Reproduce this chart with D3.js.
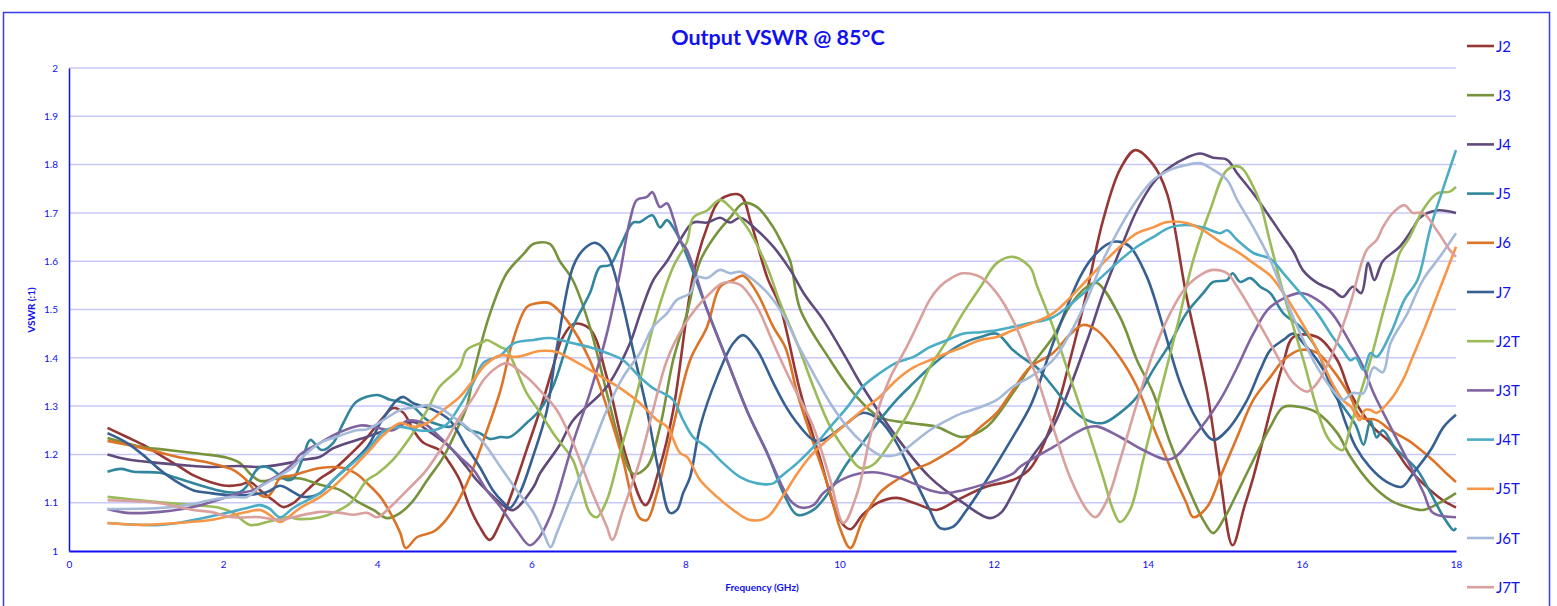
<!DOCTYPE html>
<html>
<head>
<meta charset="utf-8">
<script src="https://cdn.jsdelivr.net/npm/d3@7"></script>
<style>
    body { margin: 0; background: #ffffff; }
    text { font-family: Lato, "Open Sans", sans-serif; fill: #1010f0; }
</style>
</head>
<body>
<div id="chart"></div>
<script>
// series, [frequency GHz, VSWR]
const J2 = [[0.5,1.255],[0.75,1.236],[0.96,1.22],[1.18,1.199],[1.4,1.178],[1.61,1.157],[1.83,1.143],[2.05,1.135],[2.22,1.137],[2.35,1.143],[2.48,1.126],[2.65,1.105],[2.78,1.091],[2.91,1.099],[3.09,1.126],[3.26,1.15],[3.43,1.168],[3.65,1.2],[3.87,1.236],[4.08,1.277],[4.21,1.296],[4.34,1.286],[4.47,1.25],[4.6,1.224],[4.81,1.209],[4.94,1.182],[5.07,1.147],[5.2,1.091],[5.33,1.05],[5.46,1.023],[5.6,1.06],[5.77,1.13],[5.94,1.21],[6.11,1.29],[6.28,1.38],[6.4,1.44],[6.55,1.47],[6.76,1.46],[6.98,1.36],[7.24,1.19],[7.48,1.095],[7.66,1.17],[7.84,1.29],[8.1,1.57],[8.28,1.67],[8.45,1.727],[8.71,1.737],[8.85,1.68],[9.06,1.567],[9.23,1.505],[9.49,1.33],[9.75,1.19],[10,1.065],[10.14,1.045],[10.3,1.075],[10.5,1.1],[10.74,1.11],[10.96,1.1],[11.26,1.085],[11.52,1.105],[11.9,1.133],[12.25,1.147],[12.47,1.17],[12.77,1.27],[12.99,1.395],[13.2,1.53],[13.42,1.685],[13.64,1.79],[13.84,1.83],[14.07,1.8],[14.25,1.74],[14.5,1.53],[14.77,1.33],[14.94,1.15],[15.1,1.012],[15.25,1.09],[15.37,1.153],[15.59,1.29],[15.76,1.39],[15.89,1.443],[16.2,1.443],[16.46,1.395],[16.63,1.327],[16.92,1.257],[17.15,1.224],[17.37,1.174],[17.57,1.14],[17.83,1.105],[18,1.09]]
const J3 = [[0.5,1.234],[0.96,1.215],[1.18,1.211],[1.61,1.203],[1.83,1.199],[2.05,1.193],[2.22,1.182],[2.35,1.16],[2.48,1.145],[2.7,1.15],[3,1.15],[3.26,1.137],[3.52,1.126],[3.78,1.099],[3.95,1.085],[4.13,1.068],[4.3,1.079],[4.47,1.105],[4.65,1.147],[4.86,1.195],[5.03,1.25],[5.16,1.298],[5.27,1.38],[5.46,1.49],[5.68,1.575],[5.9,1.615],[6.03,1.636],[6.24,1.636],[6.37,1.6],[6.54,1.56],[6.76,1.464],[6.98,1.327],[7.15,1.224],[7.32,1.16],[7.5,1.174],[7.67,1.257],[7.84,1.395],[8.02,1.492],[8.19,1.6],[8.41,1.658],[8.58,1.69],[8.75,1.72],[8.93,1.712],[9.14,1.67],[9.23,1.644],[9.36,1.6],[9.49,1.5],[9.88,1.395],[10.18,1.327],[10.52,1.277],[10.96,1.264],[11.26,1.257],[11.6,1.236],[11.91,1.257],[12.25,1.327],[12.47,1.38],[12.77,1.443],[13,1.51],[13.21,1.547],[13.34,1.555],[13.64,1.484],[13.86,1.395],[14.07,1.327],[14.29,1.224],[14.5,1.14],[14.72,1.064],[14.85,1.037],[15,1.07],[15.16,1.12],[15.37,1.188],[15.59,1.257],[15.76,1.298],[15.98,1.298],[16.2,1.286],[16.46,1.244],[16.63,1.195],[16.89,1.14],[17.15,1.105],[17.37,1.091],[17.57,1.085],[17.79,1.1],[18,1.12]]
const J4 = [[0.5,1.2],[0.75,1.19],[1.18,1.182],[1.61,1.176],[1.83,1.174],[2.2,1.176],[2.48,1.174],[2.91,1.184],[3,1.188],[3.26,1.195],[3.43,1.213],[3.86,1.236],[4.2,1.254],[4.47,1.267],[4.65,1.25],[4.94,1.215],[5.16,1.174],[5.29,1.147],[5.51,1.112],[5.68,1.089],[5.77,1.085],[6.03,1.133],[6.11,1.16],[6.37,1.22],[6.54,1.27],[6.98,1.34],[7.28,1.43],[7.41,1.49],[7.58,1.56],[7.76,1.6],[7.93,1.644],[8.1,1.68],[8.28,1.68],[8.45,1.69],[8.58,1.68],[8.71,1.69],[8.93,1.664],[9.14,1.63],[9.36,1.582],[9.55,1.53],[9.79,1.478],[10.1,1.395],[10.3,1.34],[10.74,1.236],[11.17,1.153],[11.6,1.1],[11.95,1.068],[12.1,1.08],[12.25,1.12],[12.47,1.188],[12.77,1.257],[13.2,1.43],[13.42,1.534],[13.64,1.623],[13.86,1.706],[14.07,1.762],[14.29,1.795],[14.5,1.814],[14.68,1.823],[14.85,1.814],[15.03,1.81],[15.16,1.782],[15.37,1.74],[15.59,1.69],[15.76,1.65],[15.89,1.62],[16.02,1.58],[16.2,1.555],[16.4,1.54],[16.53,1.526],[16.66,1.547],[16.77,1.534],[16.86,1.596],[16.94,1.561],[17.05,1.6],[17.27,1.63],[17.44,1.668],[17.53,1.69],[17.75,1.705],[18,1.7]]
const J5 = [[0.5,1.164],[0.67,1.17],[0.84,1.164],[1.18,1.162],[1.4,1.151],[1.83,1.13],[2.05,1.122],[2.22,1.122],[2.3,1.133],[2.42,1.165],[2.48,1.174],[2.6,1.172],[2.83,1.147],[2.91,1.15],[3.04,1.195],[3.13,1.23],[3.28,1.209],[3.43,1.224],[3.56,1.265],[3.73,1.309],[4,1.323],[4.17,1.313],[4.3,1.309],[4.47,1.298],[4.65,1.271],[4.81,1.261],[4.94,1.257],[5.07,1.265],[5.2,1.25],[5.33,1.244],[5.46,1.232],[5.6,1.236],[5.72,1.236],[5.94,1.265],[6.11,1.292],[6.28,1.34],[6.54,1.464],[6.76,1.534],[6.89,1.588],[7.02,1.592],[7.15,1.63],[7.32,1.68],[7.41,1.681],[7.57,1.695],[7.67,1.67],[7.76,1.685],[7.84,1.67],[7.97,1.63],[8.28,1.5],[8.54,1.395],[8.8,1.29],[9.06,1.203],[9.3,1.11],[9.45,1.075],[9.66,1.085],[9.88,1.126],[10.1,1.182],[10.3,1.224],[10.52,1.271],[10.74,1.313],[10.96,1.348],[11.17,1.38],[11.4,1.41],[11.6,1.43],[11.83,1.443],[12.04,1.45],[12.25,1.416],[12.47,1.39],[12.56,1.38],[12.77,1.34],[12.99,1.298],[13.21,1.271],[13.42,1.265],[13.64,1.286],[13.86,1.319],[14.07,1.375],[14.29,1.43],[14.5,1.492],[14.72,1.534],[14.85,1.557],[15.03,1.561],[15.1,1.575],[15.2,1.557],[15.33,1.565],[15.46,1.547],[15.59,1.534],[15.76,1.492],[15.98,1.464],[16.2,1.416],[16.4,1.33],[16.53,1.3],[16.7,1.26],[16.8,1.22],[16.89,1.27],[16.97,1.235],[17.05,1.25],[17.2,1.215],[17.33,1.195],[17.5,1.167],[17.67,1.12],[17.84,1.07],[17.97,1.043],[18,1.048]]
const J6 = [[0.5,1.228],[0.96,1.213],[1.4,1.195],[1.83,1.182],[2.13,1.168],[2.3,1.147],[2.44,1.12],[2.57,1.112],[2.65,1.126],[2.74,1.151],[2.91,1.157],[3.26,1.172],[3.56,1.172],[3.73,1.16],[3.87,1.14],[4.04,1.112],[4.17,1.079],[4.3,1.037],[4.37,1.006],[4.52,1.029],[4.73,1.04],[4.86,1.058],[5.04,1.1],[5.2,1.153],[5.38,1.23],[5.6,1.333],[5.75,1.43],[5.94,1.505],[6.07,1.513],[6.24,1.513],[6.46,1.478],[6.76,1.395],[6.98,1.298],[7.19,1.188],[7.32,1.1],[7.41,1.068],[7.5,1.064],[7.63,1.12],[7.84,1.257],[8.06,1.395],[8.28,1.464],[8.45,1.547],[8.62,1.561],[8.75,1.57],[8.93,1.534],[9.14,1.464],[9.3,1.42],[9.45,1.327],[9.66,1.224],[9.88,1.12],[10,1.05],[10.14,1.006],[10.3,1.064],[10.52,1.12],[10.74,1.147],[10.96,1.168],[11.17,1.182],[11.4,1.203],[11.6,1.224],[11.83,1.257],[12.04,1.286],[12.25,1.333],[12.47,1.38],[12.77,1.41],[13,1.45],[13.16,1.468],[13.34,1.457],[13.64,1.4],[13.86,1.34],[14.07,1.257],[14.29,1.174],[14.5,1.1],[14.59,1.07],[14.77,1.091],[14.94,1.153],[15.16,1.236],[15.37,1.313],[15.59,1.36],[15.76,1.395],[15.98,1.416],[16.2,1.41],[16.4,1.375],[16.63,1.319],[16.76,1.277],[16.97,1.271],[17.15,1.25],[17.37,1.23],[17.5,1.215],[17.7,1.188],[17.88,1.16],[18,1.143]]
const J7 = [[0.5,1.244],[0.75,1.224],[0.96,1.199],[1.18,1.168],[1.4,1.143],[1.61,1.126],[1.83,1.12],[2.05,1.116],[2.31,1.116],[2.57,1.122],[2.74,1.135],[2.91,1.122],[3.04,1.112],[3.26,1.12],[3.43,1.147],[3.87,1.215],[4.04,1.265],[4.26,1.313],[4.34,1.319],[4.47,1.306],[4.73,1.292],[4.94,1.271],[5.16,1.215],[5.33,1.174],[5.5,1.126],[5.64,1.1],[5.72,1.089],[5.85,1.12],[6.02,1.195],[6.2,1.29],[6.33,1.42],[6.54,1.588],[6.67,1.623],[6.83,1.638],[6.98,1.617],[7.15,1.534],[7.32,1.416],[7.5,1.292],[7.67,1.153],[7.8,1.079],[7.89,1.085],[7.97,1.12],[8.06,1.153],[8.19,1.257],[8.41,1.36],[8.62,1.43],[8.75,1.447],[8.93,1.416],[9.14,1.348],[9.3,1.3],[9.45,1.265],[9.66,1.23],[9.79,1.23],[10.1,1.265],[10.3,1.286],[10.52,1.271],[10.74,1.224],[10.96,1.153],[11.17,1.085],[11.3,1.048],[11.47,1.05],[11.65,1.085],[11.91,1.147],[12.17,1.215],[12.47,1.298],[12.56,1.333],[12.77,1.43],[13.12,1.567],[13.29,1.609],[13.51,1.638],[13.64,1.64],[13.77,1.63],[13.99,1.567],[14.2,1.464],[14.42,1.348],[14.64,1.271],[14.85,1.23],[15.03,1.25],[15.29,1.313],[15.46,1.375],[15.59,1.416],[15.76,1.437],[15.89,1.45],[16.02,1.43],[16.2,1.395],[16.4,1.34],[16.58,1.26],[16.7,1.215],[16.88,1.174],[17.1,1.143],[17.3,1.133],[17.44,1.16],[17.67,1.209],[17.84,1.257],[18,1.282]]
const J2T = [[0.5,1.112],[1.18,1.101],[1.61,1.095],[1.96,1.089],[2.13,1.079],[2.35,1.054],[2.57,1.06],[2.83,1.07],[3,1.066],[3.26,1.07],[3.43,1.079],[3.65,1.099],[3.87,1.147],[4,1.16],[4.2,1.188],[4.43,1.236],[4.65,1.292],[4.81,1.34],[5.07,1.38],[5.16,1.416],[5.38,1.433],[5.42,1.437],[5.6,1.422],[5.68,1.416],[5.94,1.327],[6.1,1.29],[6.3,1.24],[6.54,1.188],[6.67,1.12],[6.76,1.079],[6.85,1.07],[6.98,1.105],[7.15,1.203],[7.37,1.327],[7.58,1.464],[7.84,1.588],[8.02,1.64],[8.1,1.69],[8.28,1.705],[8.45,1.727],[8.58,1.712],[8.8,1.67],[9.06,1.588],[9.23,1.513],[9.45,1.43],[9.66,1.34],[9.88,1.257],[10.1,1.203],[10.27,1.172],[10.43,1.178],[10.66,1.224],[10.96,1.306],[11.17,1.38],[11.4,1.437],[11.6,1.492],[11.83,1.547],[12.04,1.596],[12.25,1.609],[12.47,1.588],[12.56,1.55],[12.77,1.464],[12.99,1.36],[13.21,1.257],[13.42,1.153],[13.55,1.085],[13.64,1.06],[13.77,1.085],[13.94,1.188],[14.16,1.327],[14.38,1.464],[14.59,1.602],[14.81,1.706],[15.03,1.789],[15.2,1.795],[15.37,1.754],[15.46,1.72],[15.59,1.638],[15.76,1.534],[15.89,1.464],[16.02,1.395],[16.2,1.292],[16.33,1.236],[16.46,1.213],[16.53,1.209],[16.63,1.257],[16.76,1.327],[16.89,1.395],[17.05,1.492],[17.18,1.567],[17.27,1.617],[17.4,1.65],[17.57,1.706],[17.75,1.74],[17.92,1.744],[18,1.754]]
const J3T = [[0.5,1.087],[0.75,1.079],[1.18,1.081],[1.61,1.091],[2.05,1.112],[2.22,1.12],[2.39,1.126],[2.57,1.143],[2.74,1.16],[2.91,1.182],[3,1.2],[3.26,1.224],[3.5,1.245],[3.78,1.26],[4,1.255],[4.2,1.25],[4.4,1.27],[4.6,1.265],[4.81,1.236],[5.07,1.195],[5.25,1.168],[5.42,1.126],[5.6,1.091],[5.81,1.043],[5.98,1.012],[6.11,1.03],[6.24,1.07],[6.33,1.11],[6.54,1.224],[6.76,1.327],[6.98,1.45],[7.15,1.575],[7.28,1.685],[7.37,1.727],[7.5,1.733],[7.57,1.743],[7.67,1.712],[7.76,1.72],[7.84,1.69],[7.93,1.644],[8.02,1.623],[8.28,1.5],[8.54,1.395],[8.8,1.29],[9.06,1.203],[9.36,1.105],[9.5,1.09],[9.66,1.095],[9.79,1.12],[10.1,1.153],[10.43,1.163],[10.74,1.153],[10.96,1.14],[11.17,1.126],[11.4,1.12],[11.6,1.126],[11.91,1.14],[12.25,1.16],[12.34,1.174],[12.77,1.215],[13.2,1.255],[13.34,1.258],[13.64,1.236],[13.94,1.209],[14.29,1.19],[14.59,1.236],[14.94,1.313],[15.16,1.38],[15.37,1.45],[15.59,1.505],[15.98,1.534],[16.2,1.52],[16.4,1.49],[16.63,1.43],[16.8,1.38],[16.93,1.327],[17.15,1.257],[17.37,1.188],[17.58,1.12],[17.7,1.079],[18,1.07]]
const J4T = [[0.5,1.058],[1.18,1.054],[1.61,1.064],[2.05,1.079],[2.31,1.089],[2.48,1.095],[2.6,1.088],[2.74,1.07],[2.91,1.089],[3.09,1.105],[3.26,1.12],[3.43,1.147],[3.87,1.209],[4.08,1.247],[4.3,1.257],[4.52,1.25],[4.73,1.25],[4.9,1.262],[5.07,1.3],[5.25,1.35],[5.38,1.39],[5.6,1.405],[5.77,1.43],[6.03,1.437],[6.24,1.441],[6.54,1.43],[6.76,1.422],[6.98,1.41],[7.19,1.395],[7.41,1.36],[7.6,1.335],[7.71,1.327],[7.84,1.313],[7.97,1.271],[8.1,1.236],[8.28,1.215],[8.49,1.182],[8.71,1.153],[8.93,1.14],[9.14,1.14],[9.23,1.153],[9.45,1.182],[9.66,1.215],[9.88,1.257],[10.1,1.298],[10.3,1.34],[10.52,1.368],[10.74,1.39],[10.96,1.402],[11.17,1.422],[11.4,1.437],[11.6,1.45],[11.83,1.453],[12.04,1.457],[12.25,1.464],[12.47,1.472],[12.77,1.484],[13.21,1.54],[13.64,1.602],[13.86,1.63],[14.07,1.65],[14.29,1.67],[14.5,1.675],[14.72,1.67],[14.94,1.658],[15.03,1.664],[15.16,1.644],[15.37,1.617],[15.59,1.605],[15.76,1.575],[15.98,1.534],[16.2,1.492],[16.4,1.443],[16.53,1.416],[16.63,1.395],[16.7,1.4],[16.8,1.375],[16.89,1.41],[16.97,1.402],[17.15,1.45],[17.33,1.52],[17.5,1.561],[17.67,1.67],[17.84,1.754],[18,1.83]]
const J5T = [[0.5,1.058],[0.96,1.054],[1.4,1.058],[1.83,1.064],[2.26,1.079],[2.48,1.085],[2.6,1.075],[2.74,1.06],[2.83,1.068],[3,1.089],[3.26,1.112],[3.43,1.133],[3.87,1.203],[4.08,1.24],[4.3,1.265],[4.47,1.257],[4.65,1.265],[4.86,1.292],[5.07,1.319],[5.25,1.354],[5.4,1.385],[5.6,1.405],[5.81,1.402],[6.11,1.414],[6.33,1.412],[6.54,1.395],[6.76,1.375],[6.98,1.354],[7.19,1.333],[7.41,1.306],[7.63,1.271],[7.76,1.257],[7.93,1.203],[8.02,1.195],[8.19,1.147],[8.41,1.112],[8.62,1.085],[8.84,1.064],[9.06,1.07],[9.27,1.115],[9.45,1.16],[9.66,1.203],[10.1,1.265],[10.3,1.292],[10.52,1.319],[10.74,1.354],[10.96,1.38],[11.17,1.395],[11.4,1.41],[11.6,1.422],[11.83,1.437],[12.04,1.443],[12.25,1.457],[12.47,1.47],[12.77,1.492],[13.21,1.561],[13.42,1.596],[13.64,1.63],[13.86,1.658],[14.07,1.67],[14.25,1.681],[14.5,1.679],[14.72,1.664],[14.94,1.64],[15.16,1.62],[15.37,1.596],[15.59,1.57],[15.76,1.534],[15.98,1.478],[16.2,1.416],[16.37,1.355],[16.53,1.313],[16.64,1.298],[16.75,1.271],[16.82,1.292],[16.89,1.292],[16.97,1.286],[17.15,1.313],[17.33,1.36],[17.42,1.395],[17.6,1.464],[17.8,1.547],[18,1.63]]
const J6T = [[0.5,1.087],[1.18,1.089],[1.53,1.095],[1.83,1.105],[2.13,1.112],[2.31,1.112],[2.48,1.133],[2.7,1.153],[2.91,1.174],[3,1.19],[3.26,1.224],[3.43,1.234],[3.73,1.25],[3.87,1.252],[4.08,1.271],[4.3,1.292],[4.52,1.298],[4.65,1.302],[4.81,1.296],[4.99,1.277],[5.16,1.257],[5.38,1.224],[5.6,1.174],[5.81,1.126],[6.03,1.079],[6.16,1.037],[6.25,1.008],[6.33,1.037],[6.54,1.12],[6.76,1.203],[6.98,1.292],[7.19,1.36],[7.41,1.41],[7.58,1.464],[7.76,1.492],[7.89,1.52],[8.06,1.534],[8.15,1.567],[8.28,1.565],[8.45,1.582],[8.58,1.575],[8.71,1.578],[8.93,1.555],[9.14,1.52],[9.3,1.48],[9.45,1.43],[9.66,1.368],[9.88,1.306],[10.1,1.257],[10.3,1.224],[10.52,1.199],[10.74,1.199],[10.96,1.224],[11.17,1.25],[11.4,1.271],[11.6,1.286],[11.83,1.298],[12.04,1.313],[12.25,1.34],[12.47,1.36],[12.77,1.395],[12.99,1.45],[13.21,1.52],[13.42,1.602],[13.64,1.67],[13.86,1.727],[14.07,1.768],[14.29,1.789],[14.5,1.799],[14.68,1.803],[14.85,1.789],[15.03,1.768],[15.16,1.727],[15.37,1.67],[15.59,1.602],[15.76,1.534],[15.98,1.45],[16.2,1.38],[16.4,1.333],[16.53,1.313],[16.66,1.327],[16.8,1.327],[16.93,1.38],[17.05,1.37],[17.15,1.43],[17.37,1.492],[17.57,1.561],[17.79,1.609],[18,1.658]]
const J7T = [[0.5,1.105],[1.18,1.099],[1.61,1.085],[1.83,1.081],[2.13,1.07],[2.48,1.07],[2.74,1.064],[2.91,1.07],[3.26,1.081],[3.52,1.079],[3.69,1.075],[3.87,1.079],[4,1.07],[4.17,1.091],[4.39,1.126],[4.6,1.16],[4.73,1.188],[4.9,1.23],[5.07,1.277],[5.25,1.319],[5.38,1.354],[5.55,1.38],[5.68,1.389],[5.94,1.36],[6.11,1.333],[6.33,1.292],[6.54,1.224],[6.76,1.133],[6.98,1.05],[7.05,1.023],[7.19,1.085],[7.41,1.188],[7.58,1.292],[7.76,1.395],[7.97,1.464],[8.15,1.505],[8.36,1.54],[8.49,1.555],[8.71,1.551],[8.93,1.505],[9.14,1.43],[9.36,1.354],[9.66,1.257],[9.88,1.147],[10.05,1.058],[10.23,1.12],[10.43,1.257],[10.66,1.36],[10.87,1.422],[11.04,1.478],[11.17,1.52],[11.3,1.547],[11.47,1.567],[11.6,1.575],[11.83,1.567],[12.04,1.534],[12.25,1.478],[12.47,1.395],[12.56,1.36],[12.77,1.257],[12.99,1.153],[13.21,1.085],[13.32,1.07],[13.47,1.105],[13.64,1.188],[13.86,1.306],[14.07,1.41],[14.29,1.492],[14.5,1.547],[14.72,1.575],[14.85,1.582],[15.03,1.575],[15.16,1.547],[15.37,1.492],[15.59,1.43],[15.76,1.38],[15.89,1.348],[16.07,1.33],[16.2,1.348],[16.4,1.41],[16.63,1.513],[16.84,1.623],[16.97,1.644],[17.05,1.67],[17.18,1.7],[17.33,1.716],[17.44,1.7],[17.57,1.7],[17.75,1.664],[17.92,1.623],[18,1.609]]

const seriesNames = ["J2", "J3", "J4", "J5", "J6", "J7", "J2T", "J3T", "J4T", "J5T", "J6T", "J7T"]
const seriesValues = [J2, J3, J4, J5, J6, J7, J2T, J3T, J4T, J5T, J6T, J7T]
const seriesColors = ["#953735", "#77933c", "#604a7b", "#31859c", "#dc7428", "#376092",
    "#9bbb59", "#8064a2", "#4bacc6", "#f79646", "#a5b9d8", "#d9a09e"]

const freqTicks = [0, 2, 4, 6, 8, 10, 12, 14, 16, 18]
const vswrTicks = [1, 1.1, 1.2, 1.3, 1.4, 1.5, 1.6, 1.7, 1.8, 1.9, 2]

const width = 1557
const height = 606
const plot = {left: 69, right: 1456, top: 68, bottom: 551}
const blue = "#1010f0"

const svg = d3.select("#chart")
    .append("svg")
    .attr("width", width)
    .attr("height", height)
    .attr("viewBox", [0, 0, width, height])

// chart frame
svg.append("rect")
    .attr("x", 3.5)
    .attr("y", 12.5)
    .attr("width", 1546)
    .attr("height", 620)
    .attr("fill", "#ffffff")
    .attr("stroke", "#3a3af0")
    .attr("stroke-width", 1.5)

const x = d3.scaleLinear().domain([0, 18]).range([plot.left, plot.right])
const y = d3.scaleLinear().domain([1, 2]).range([plot.bottom, plot.top])

// horizontal gridlines
svg.append("g")
    .selectAll("line")
    .data(vswrTicks.slice(1))
    .join("line")
    .attr("x1", plot.left)
    .attr("x2", plot.right)
    .attr("y1", (d) => y(d))
    .attr("y2", (d) => y(d))
    .attr("stroke", "#c8c8fa")
    .attr("stroke-width", 1.5)

const yAxis = svg.append("g")
    .attr("transform", `translate(${plot.left},0)`)
    .call(d3.axisLeft(y).tickValues(vswrTicks).tickSize(0).tickPadding(11).tickFormat(d3.format("~g")))
yAxis.select(".domain").attr("stroke", blue).attr("stroke-width", 1.5)
yAxis.selectAll("text").attr("font-size", 10).attr("fill", blue)

const xAxis = svg.append("g")
    .attr("transform", `translate(0,${plot.bottom})`)
    .call(d3.axisBottom(x).tickValues(freqTicks).tickSize(0).tickPadding(10))
xAxis.select(".domain").attr("stroke", blue).attr("stroke-width", 2)
xAxis.selectAll("text").attr("font-size", 10).attr("fill", blue)

const line = d3.line()
    .x((d) => x(d[0]))
    .y((d) => y(d[1]))
    .curve(d3.curveCatmullRom.alpha(0.5))

svg.append("g")
    .selectAll("path")
    .data(seriesValues)
    .join("path")
    .attr("d", (d) => line(d))
    .attr("fill", "none")
    .attr("stroke", (d, i) => seriesColors[i])
    .attr("stroke-width", 2.6)
    .attr("stroke-linejoin", "round")

// title and axis titles
svg.append("text")
    .attr("x", 778)
    .attr("y", 45)
    .attr("text-anchor", "middle")
    .attr("font-size", 21.5)
    .attr("font-weight", "bold")
    .text("Output VSWR @ 85°C")

svg.append("text")
    .attr("x", 762)
    .attr("y", 591)
    .attr("text-anchor", "middle")
    .attr("font-size", 10)
    .attr("font-weight", "bold")
    .text("Frequency (GHz)")

svg.append("text")
    .attr("transform", "translate(35,310) rotate(-90)")
    .attr("text-anchor", "middle")
    .attr("font-size", 10)
    .attr("font-weight", "bold")
    .text("VSWR (:1)")

// legend
const legend = svg.append("g")
    .selectAll("g")
    .data(seriesNames)
    .join("g")
    .attr("transform", (d, i) => `translate(1467,${46 + i * 49.2})`)

legend.append("line")
    .attr("x1", 0)
    .attr("x2", 27)
    .attr("stroke", (d, i) => seriesColors[i])
    .attr("stroke-width", 2.6)

legend.append("text")
    .attr("x", 29)
    .attr("y", 5.5)
    .attr("font-size", 15)
    .text((d) => d)
</script>
</body>
</html>
